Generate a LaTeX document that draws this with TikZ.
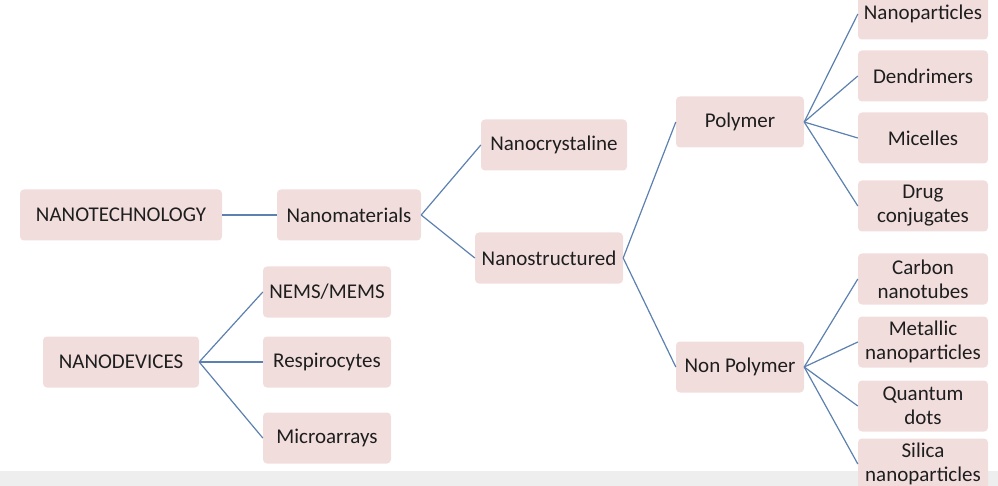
\documentclass[tikz,border=0pt]{standalone}
\usepackage{fontspec}
\setmainfont{Carlito}
\definecolor{boxpink}{RGB}{242,221,221}
\definecolor{linkblue}{RGB}{92,128,175}
\definecolor{inkgray}{RGB}{30,30,30}
\definecolor{bandgray}{RGB}{238,238,238}

\begin{document}
\begin{tikzpicture}[x=1pt,y=-1pt,
    box/.style={fill=boxpink, rounded corners=4pt, minimum height=51pt, inner sep=0pt,
      align=center, text=inkgray, font=\fontsize{21}{24}\selectfont},
    link/.style={draw=linkblue, line width=1.2pt}]
  \useasboundingbox (0,0) rectangle (998,486);
  \clip (0,0) rectangle (998,486);
  \fill[bandgray] (0,471) rectangle (998,486);
      \node (tech) at (121,215) [box, minimum width=202pt] {NANOTECHNOLOGY};
      \node (mat) at (349,215) [box, minimum width=144pt] {Nanomaterials};
      \node (cryst) at (554,145) [box, minimum width=146pt] {Nanocrystaline};
      \node (struct) at (549,258) [box, minimum width=148pt] {Nanostructured};
      \node (poly) at (740,122) [box, minimum width=128pt] {Polymer};
      \node (nonpoly) at (740,367) [box, minimum width=128pt] {Non Polymer};
      \node (dev) at (121,362) [box, minimum width=156pt] {NANODEVICES};
      \draw[link] (tech) to (mat);
      \draw[link] (mat.east) to (cryst.west)  (mat.east) to (struct.west);
      \draw[link] (struct.east) to (poly.west)  (struct.east) to (nonpoly.west);
      \foreach \n/\y/\t in {nems/292/{NEMS/MEMS}, resp/362/Respirocytes, micro/438/Microarrays} {
        \node (\n) at (327,\y) [box, minimum width=128pt] {\t};
        \draw[link] (dev.east) to (\n.west);
      }
      \foreach \n/\y/\t in {np/14/Nanoparticles, dend/76/Dendrimers, mic/138/Micelles, drug/206/{Drug\\conjugates}} {
        \node (\n) at (923,\y) [box, minimum width=130pt] {\t};
        \draw[link] (poly.east) to (\n.west);
      }
      \foreach \n/\y/\t in {cnt/279/{Carbon\\nanotubes}, metal/342/{Metallic\\nanoparticles}, qd/406/{Quantum\\dots}, silica/464/{Silica\\nanoparticles}} {
        \node (\n) at (923,\y) [box, minimum width=130pt] {\t};
        \draw[link] (nonpoly.east) to (\n.west);
      }
\end{tikzpicture}
\end{document}
